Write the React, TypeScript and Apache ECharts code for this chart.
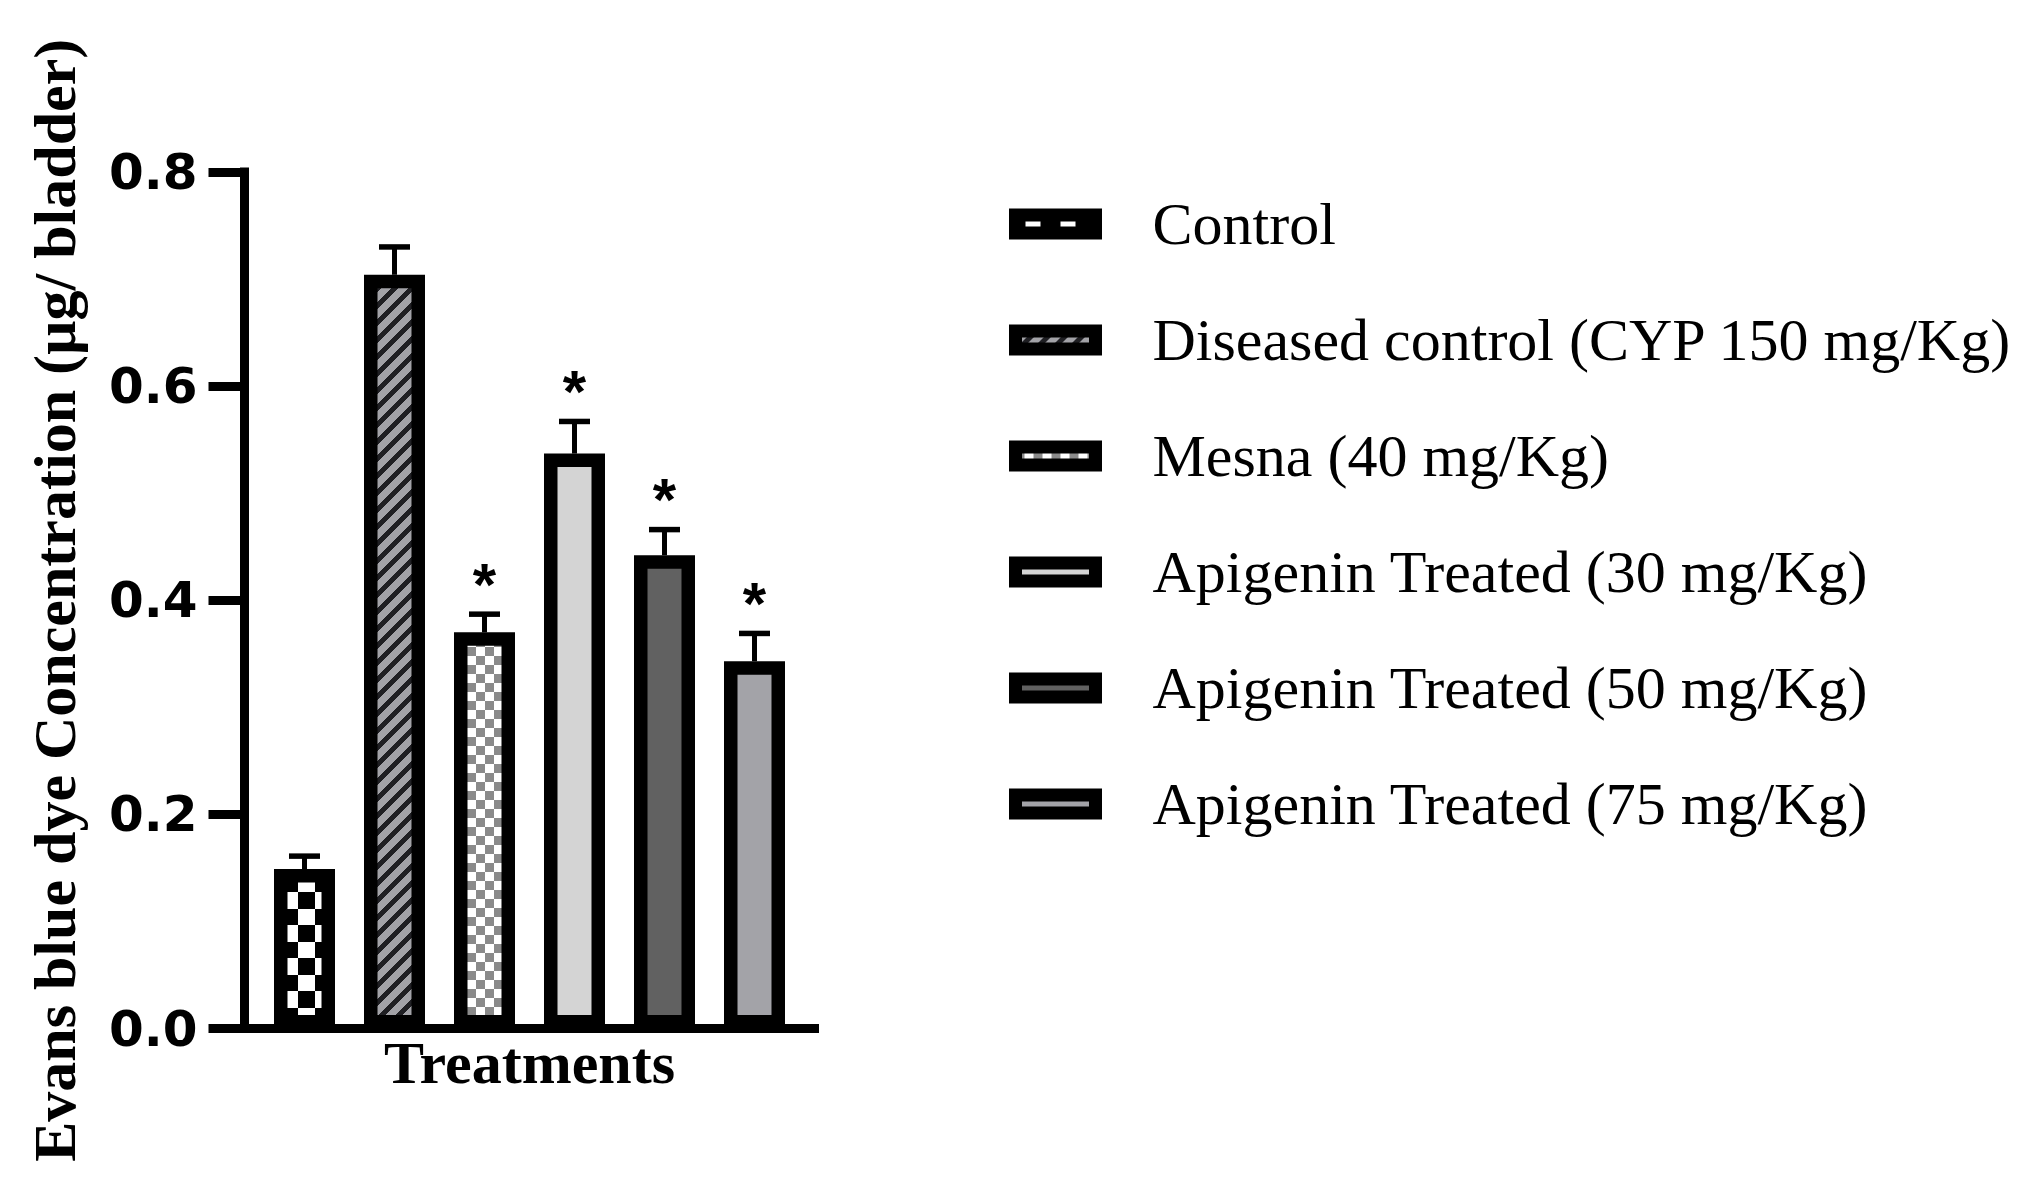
import React, { useEffect, useRef } from "react";
import * as echarts from "echarts";

const xCategories = ["Treatments"];
const groups = [
  "Control",
  "Diseased control (CYP 150 mg/Kg)",
  "Mesna (40 mg/Kg)",
  "Apigenin Treated (30 mg/Kg)",
  "Apigenin Treated (50 mg/Kg)",
  "Apigenin Treated (75 mg/Kg)",
];
const means = [0.149, 0.704, 0.37, 0.537, 0.442, 0.343];
const errors = [0.012, 0.026, 0.017, 0.03, 0.024, 0.026];
const significance = ["", "", "*", "*", "*", "*"];
const yTicks = { min: 0, max: 0.8, interval: 0.2 };

const BAR_W = 61;
const BAR_PITCH = 90;
const BORDER = 13.5;

function tile(w: number, h: number, fn: (x: number, y: number) => string) {
  const c = document.createElement("canvas");
  c.width = w;
  c.height = h;
  const ctx = c.getContext("2d")!;
  for (let y = 0; y < h; y++) {
    for (let x = 0; x < w; x++) {
      ctx.fillStyle = fn(x, y);
      ctx.fillRect(x, y, 1, 1);
    }
  }
  return { image: c.toDataURL(), repeat: "repeat", imageWidth: w, imageHeight: h } as any;
}

function buildFills() {
  // Control: black / white checkerboard
  const control = tile(34, 33, (x, y) => {
    const cx = Math.floor(((x - 18 + 34) % 34) / 17);
    const cy = Math.floor(((y - 26 + 33) % 33) / 16.5);
    return (cx + cy) % 2 === 0 ? "#000000" : "#ffffff";
  });
  // Diseased: gray with dark diagonal stripes
  const diseased = tile(17, 17, (x, y) => ((x + y) % 17 < 7 ? "#1f1f23" : "#a2a2a7"));
  // Mesna: fine gray / white checkerboard
  const mesna = tile(18, 18, (x, y) => {
    const cx = Math.floor(x / 9);
    const cy = Math.floor(y / 9);
    return (cx + cy) % 2 === 0 ? "#8a8a8a" : "#ffffff";
  });
  const bars = [control, diseased, mesna, "#d4d4d4", "#616161", "#a3a3a8"];
  const legendControl = tile(35, 10, (x) => ((x - 10 + 35) % 35 < 15 ? "#ffffff" : "#000000"));
  const legendMesna = tile(18, 10, (x) => (x % 18 < 9 ? "#8a8a8a" : "#ffffff"));
  const legend = [legendControl, diseased, legendMesna, "#d4d4d4", "#616161", "#a3a3a8"];
  return { bars, legend };
}

export default function App() {
  const ref = useRef<HTMLDivElement>(null);
  useEffect(() => {
    if (!ref.current) return;
    const chart = echarts.init(ref.current, undefined, { renderer: "svg" });
    const fills = buildFills();

    const barSeries = groups.map((g, i) => ({
      name: g,
      type: "bar",
      data: [means[i]],
      barWidth: BAR_W,
      barGap: ((BAR_PITCH - BAR_W) / BAR_W) * 100 + "%",
      itemStyle: { color: fills.bars[i], borderColor: "#000", borderWidth: BORDER },
      emphasis: { disabled: true },
      z: 2,
    }));

    const errData = means.map((m, i) => [0, m, errors[i], i]);

    const option: any = {
      animation: false,
      backgroundColor: "#fff",
      grid: { left: 236.5, top: 164, width: 570, height: 856.5 },
      legend: {
        orient: "vertical",
        left: 1001,
        top: 177,
        padding: 0,
        itemWidth: 80,
        itemHeight: 18,
        itemGap: 38,
        selectedMode: false,
        icon: "rect",
        itemStyle: { borderColor: "#000", borderWidth: 13 },
        textStyle: {
          fontFamily: "Liberation Serif",
          fontSize: 60,
          color: "#000",
          lineHeight: 60,
          padding: [18, 0, 0, 52],
        },
        data: groups.map((g, i) => ({ name: g, icon: "rect", itemStyle: { color: fills.legend[i] } })),
      },
      xAxis: {
        type: "category",
        data: xCategories,
        axisLine: { lineStyle: { color: "#000", width: 9, cap: "square" } },
        axisTick: { show: false },
        axisLabel: {
          fontFamily: "Liberation Serif",
          fontWeight: "bold",
          fontSize: 60,
          color: "#000",
          margin: 4,
        },
      },
      yAxis: {
        type: "value",
        min: yTicks.min,
        max: yTicks.max,
        interval: yTicks.interval,
        name: "Evans blue dye Concentration (µg/ bladder)",
        nameLocation: "middle",
        nameRotate: 90,
        nameGap: 160,
        nameTextStyle: {
          fontFamily: "Liberation Serif",
          fontWeight: "bold",
          fontSize: 60,
          color: "#000",
        },
        splitLine: { show: false },
        axisLine: { show: true, lineStyle: { color: "#000", width: 9, cap: "square" } },
        axisTick: { show: true, length: 36, lineStyle: { color: "#000", width: 9 } },
        axisLabel: {
          formatter: (v: number) => v.toFixed(1),
          fontFamily: "DejaVu Sans",
          fontWeight: "bold",
          fontSize: 50,
          color: "#000",
          margin: 47,
        },
      },
      series: [
        ...barSeries,
        {
          type: "custom",
          name: "error",
          z: 5,
          silent: true,
          data: errData,
          encode: { x: 0, y: 1 },
          renderItem: (params: any, api: any) => {
            const mean = api.value(1);
            const err = api.value(2);
            const idx = api.value(3);
            const base = api.coord([0, mean]);
            const top = api.coord([0, mean + err]);
            const x = base[0] + (idx - (groups.length - 1) / 2) * BAR_PITCH;
            const children: any[] = [
              {
                type: "line",
                shape: { x1: x, y1: base[1], x2: x, y2: top[1] },
                style: { stroke: "#000", lineWidth: 5 },
              },
              {
                type: "line",
                shape: { x1: x - 15.5, y1: top[1], x2: x + 15.5, y2: top[1] },
                style: { stroke: "#000", lineWidth: 5.5 },
              },
            ];
            const star = significance[idx];
            if (star) {
              children.push({
                type: "text",
                style: {
                  text: star,
                  x: x,
                  y: top[1] - 30,
                  align: "center",
                  verticalAlign: "middle",
                  fontFamily: "Liberation Sans",
                  fontWeight: "bold",
                  fontSize: 60,
                  fill: "#000",
                },
              });
            }
            return { type: "group", children };
          },
        },
      ],
    };
    chart.setOption(option);
    return () => chart.dispose();
  }, []);
  return <div ref={ref} style={{ width: 2020, height: 1175 }} />;
}
